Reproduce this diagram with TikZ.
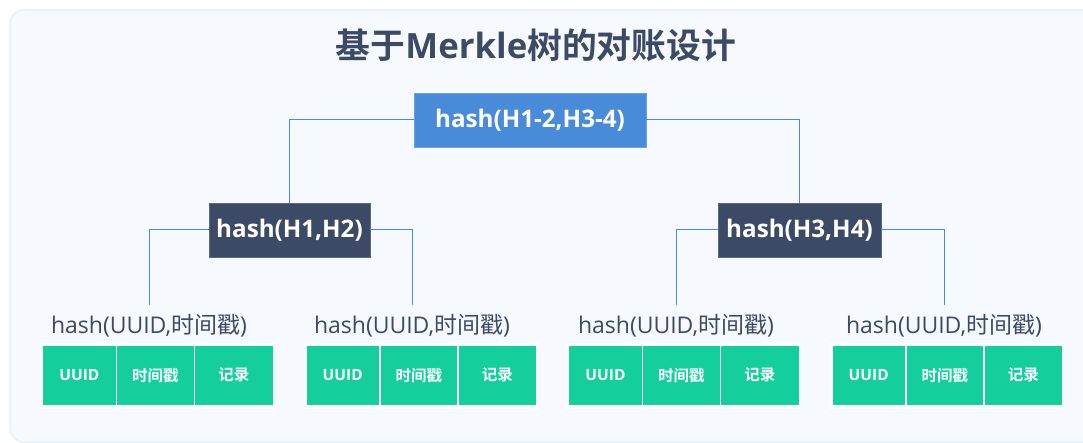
\documentclass[tikz,border=0pt]{standalone}
\usepackage{fontspec}
\setmainfont{Open Sans}
\newfontfamily\cjk[BoldFont={Noto Sans CJK SC Bold}]{Noto Sans CJK SC}
\definecolor{bgfill}{HTML}{F6FAFE}
\definecolor{bgline}{HTML}{E6F0FA}
\definecolor{slate}{HTML}{3D4A66}
\definecolor{rootblue}{HTML}{478BD9}
\definecolor{midnode}{HTML}{3C4A65}
\definecolor{midline}{HTML}{5A6A86}
\definecolor{linkblue}{HTML}{4A8CDA}
\definecolor{cellgreen}{HTML}{14CF9B}
\begin{document}
\begin{tikzpicture}[x=1pt,y=-1pt,
  titletext/.style={text=slate, font=\fontsize{34.8}{40}\selectfont\bfseries, inner sep=0pt},
  rootbox/.style={fill=rootblue, draw=rootblue!80!white, line width=0.8pt, text=white,
    font=\fontsize{24.2}{29}\selectfont\bfseries, minimum width=232pt, minimum height=54pt, inner sep=0pt},
  midbox/.style={fill=midnode, draw=midline, line width=0.8pt, text=white,
    font=\fontsize{24.2}{29}\selectfont\bfseries, minimum height=54pt, inner sep=0pt},
  leaflabel/.style={text=slate, font=\fontsize{23}{27}\selectfont, anchor=base,
    text height=18pt, text depth=5pt, inner xsep=2pt, inner ysep=10pt},
  cell/.style={fill=cellgreen, draw=white, line width=1.5pt, text=white,
    font=\fontsize{15.5}{18}\selectfont\bfseries, minimum height=61pt, inner sep=0pt, anchor=north west},
  conn/.style={draw=linkblue, line width=1pt}
]
\useasboundingbox (0,0) rectangle (1083,443);
% background panel
\path[fill=bgfill, draw=bgline, line width=1.5pt, rounded corners=14pt]
  (10,10) rectangle (1100,442);

% title
\node[titletext] (title) at (536,45) {{\cjk 基于}Merkle{\cjk 树的对账设计}};

% tree nodes
\node[rootbox] (root) at (530,120) {hash(H1-2,H3-4)};
\node[midbox, minimum width=161pt] (n12) at (289.5,230) {hash(H1,H2)};
\node[midbox, minimum width=163pt] (n34) at (799.5,230) {hash(H3,H4)};

% leaf labels
\node[leaflabel] (l1) at (149,333) {hash(UUID,{\cjk 时间戳})};
\node[leaflabel] (l2) at (412,333) {hash(UUID,{\cjk 时间戳})};
\node[leaflabel] (l3) at (676,333) {hash(UUID,{\cjk 时间戳})};
\node[leaflabel] (l4) at (944,333) {hash(UUID,{\cjk 时间戳})};

% connectors
\draw[conn] (root.west) -| (n12.north);
\draw[conn] (root.east) -| (n34.north);
\draw[conn] (n12.west) -| (l1.north);
\draw[conn] (n12.east) -| (l2.north);
\draw[conn] (n34.west) -| (l3.north);
\draw[conn] (n34.east) -| (l4.north);

% record cells
\foreach \L/\i in {41.7/1, 305/2, 567.7/3, 831/4}{
  \fill[white] (\L-1.5,342.5) rectangle (\L+232.5,408.5);
  \node[cell, minimum width=74pt] (c\i a) at (\L,344) {UUID};
  \node[cell, minimum width=78pt] (c\i b) at (\L+74,344) {\cjk\bfseries 时间戳};
  \node[cell, minimum width=79pt] (c\i c) at (\L+152,344) {\cjk\bfseries 记录};
}
\end{tikzpicture}
\end{document}
